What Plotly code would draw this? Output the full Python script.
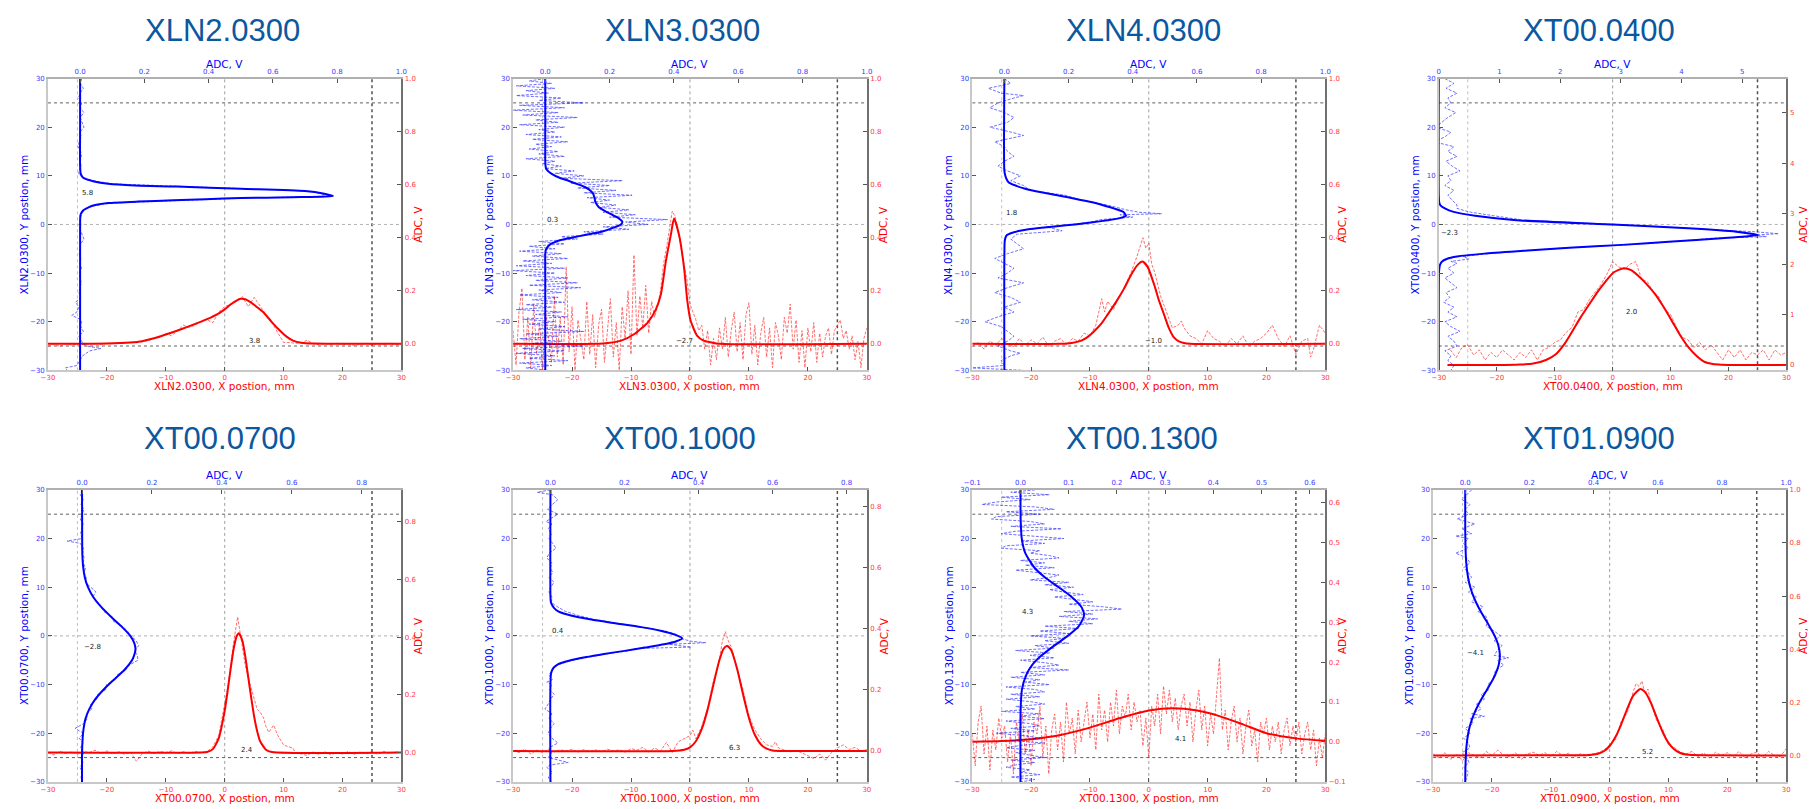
import plotly.graph_objects as go

W, H = 1814, 809

# ---------------- data ----------------
PANEL_NAMES = ["XLN2.0300", "XLN3.0300", "XLN4.0300", "XT00.0400",
               "XT00.0700", "XT00.1000", "XT00.1300", "XT01.0900"]
BLUE_CENTERS = ["5.8", "0.3", "1.8", "-2.3", "-2.8", "0.4", "4.3", "-4.1"]
RED_CENTERS = ["3.8", "-2.7", "-1.0", "2.0", "2.4", "6.3", "4.1", "5.2"]

HALF_MM_DESC = [30, 29.5, 29, 28.5, 28, 27.5, 27, 26.5, 26, 25.5, 25, 24.5, 24, 23.5, 23, 22.5, 22, 21.5, 21, 20.5,
                20, 19.5, 19, 18.5, 18, 17.5, 17, 16.5, 16, 15.5, 15, 14.5, 14, 13.5, 13, 12.5, 12, 11.5, 11, 10.5,
                10, 9.5, 9, 8.5, 8, 7.5, 7, 6.5, 6, 5.5, 5, 4.5, 4, 3.5, 3, 2.5, 2, 1.5, 1, 0.5,
                0, -0.5, -1, -1.5, -2, -2.5, -3, -3.5, -4, -4.5, -5, -5.5, -6, -6.5, -7, -7.5, -8, -8.5, -9, -9.5,
                -10, -10.5, -11, -11.5, -12, -12.5, -13, -13.5, -14, -14.5, -15, -15.5, -16, -16.5, -17, -17.5,
                -18, -18.5, -19, -19.5, -20, -20.5, -21, -21.5, -22, -22.5, -23, -23.5, -24, -24.5, -25, -25.5,
                -26, -26.5, -27, -27.5, -28, -28.5, -29, -29.5, -30]
HALF_MM_ASC = list(reversed(HALF_MM_DESC))

# Panel 1: XLN2.0300
P1_BLUE_FIT_Y = [30, 20, 12, 10.4, 9.8, 9.4, 8.9, 8.35, 8.0, 7.8, 7.33, 6.86, 6.3, 5.84, 5.6, 5.43, 5.2, 4.96, 4.7, 4.4,
                 4.1, 3.8, 3.3, 2.9, 2.4, 1.9, 0, -30]
P1_BLUE_FIT_ADC = [0, 0, 0, 0.002, 0.007, 0.015, 0.04, 0.087, 0.17, 0.30, 0.50, 0.70, 0.76, 0.787, 0.66, 0.50, 0.39,
                   0.29, 0.18, 0.087, 0.055, 0.036, 0.02, 0.01, 0.004, 0.001, 0, 0]
P1_BLUE_MEAS = [(30, 0.005), (29, 0.0), (28, 0.01), (27, 0.0), (26, -0.005), (25, 0.005), (24, 0.0), (23, 0.012),
                (22, 0.0), (21, 0.005), (20, 0.012), (19, 0.0), (18, 0.003), (17, -0.003), (16, -0.006), (15, 0.002),
                (14, 0.004), (13, 0.0), (12, 0.003), (11, -0.004), (10.4, -0.004), (9.8, 0.008), (9.4, 0.02),
                (8.9, 0.05), (8.35, 0.1), (7.8, 0.33), (7.33, 0.52), (6.86, 0.71), (6.3, 0.75), (5.84, 0.77),
                (5.43, 0.52), (4.96, 0.3), (4.4, 0.1), (3.8, 0.04), (3.3, 0.02), (2.9, 0.012), (2, 0.004), (1, 0.0),
                (0, 0.002), (-1, 0.0), (-2, 0.005), (-3, 0.012), (-4, 0.002), (-5, 0.0), (-6, -0.003), (-7, 0.002),
                (-8, 0.0), (-9, 0.004), (-10, -0.002), (-11, 0.0), (-12, 0.003), (-13, 0.0), (-14, -0.004),
                (-15, 0.002), (-16, -0.014), (-17, -0.004), (-18, -0.01), (-18.7, -0.026), (-19.5, 0.0),
                (-20, 0.004), (-21, 0.002), (-22, 0.01), (-23, -0.004), (-24, 0.004), (-25, 0.02), (-25.5, 0.065),
                (-26, 0.03), (-27, 0.008), (-28, 0.0), (-29, -0.01), (-29.5, -0.046), (-30, -0.04)]
P1_RED_FIT_X = [-30, -20, -16, -14, -12.5, -10, -7.4, -5, -3, -1, 0, 1, 2, 2.7, 3.5, 4.5, 5.5, 6.6, 8, 9.4, 10.5,
                11.6, 13, 15, 30]
P1_RED_FIT_ADC = [0, 0.001, 0.005, 0.01, 0.018, 0.035, 0.055, 0.075, 0.093, 0.115, 0.13, 0.148, 0.163, 0.17, 0.168,
                  0.155, 0.138, 0.118, 0.082, 0.049, 0.027, 0.012, 0.004, 0.001, 0]
P1_RED_MEAS = [(-30, -0.01), (-29, 0.0), (-28, -0.01), (-27, 0.0), (-26, -0.005), (-25, 0.0), (-24, -0.003),
               (-23, 0.0), (-22, 0.002), (-21, -0.002), (-20, 0.001), (-19, 0.0), (-18, 0.003), (-17, 0.002),
               (-16, 0.006), (-15, 0.004), (-14, 0.008), (-13, 0.012), (-12, 0.02), (-11, 0.024), (-10, 0.04),
               (-9, 0.03), (-8, 0.05), (-7, 0.07), (-6, 0.062), (-5, 0.07), (-4, 0.085), (-3, 0.09), (-2, 0.08),
               (-1, 0.12), (0, 0.14), (1, 0.15), (2, 0.16), (3, 0.178), (4, 0.14), (5, 0.175), (6, 0.14), (7, 0.11),
               (8, 0.08), (9, 0.04), (10, 0.005), (11, 0.005), (12, 0.002), (13, 0.003), (14, 0.014), (15, 0.0),
               (16, -0.003), (17, 0.001), (18, -0.002), (19, 0.002), (20, -0.003), (21, 0.0), (22, -0.006),
               (23, -0.002), (24, 0.002), (25, -0.004), (26, 0.0), (27, -0.003), (28, 0.002), (29, -0.004),
               (30, 0.0)]

# Panel 2: XLN3.0300
P2_BLUE_FIT_Y = [30, 20, 13, 12, 11.4, 10.4, 9.5, 9.0, 8.3, 7.7, 7.0, 6.3, 5.5, 4.6, 3.6, 2.6, 1.6, 0.9, 0.5, 0,
                 -0.6, -1.5, -2.2, -2.85, -3.5, -4.1, -5.2, -6, -10, -20, -30]
P2_BLUE_FIT_ADC = [0, 0, 0.0, 0.001, 0.003, 0.02, 0.048, 0.072, 0.1, 0.123, 0.14, 0.149, 0.153, 0.156, 0.166, 0.19,
                   0.22, 0.235, 0.24, 0.235, 0.215, 0.175, 0.12, 0.072, 0.035, 0.015, 0.002, 0, 0, 0, 0]
P2_BLUE_MEAS_ADC = [0.0, -0.05, 0.02, -0.09, 0.03, -0.06, 0.01, -0.09, 0.05, -0.02, 0.12, -0.08, 0.06, -0.1, 0.04,
                    -0.07, 0.1, -0.03, 0.04, -0.08, 0.06, -0.02, 0.03, -0.06, 0.05, -0.04, 0.07, -0.03, 0.02, -0.05,
                    0.04, -0.02, 0.06, -0.06, 0.03, -0.01, 0.05, 0.0, 0.09, 0.03, 0.12, 0.05, 0.24, 0.08, 0.2, 0.1,
                    0.22, 0.12, 0.27, 0.13, 0.2, 0.14, 0.22, 0.17, 0.26, 0.18, 0.28, 0.2, 0.38, 0.25, 0.32, 0.18,
                    0.26, 0.12, 0.18, 0.05, 0.1, -0.02, 0.06, -0.05, 0.03, -0.08, 0.05, -0.04, 0.07, -0.07, 0.02,
                    -0.09, 0.06, -0.1, 0.03, -0.06, 0.07, -0.03, 0.1, -0.05, 0.11, -0.02, 0.05, -0.08, 0.04, -0.04,
                    0.06, -0.06, 0.02, -0.09, 0.05, -0.03, 0.07, -0.07, 0.03, -0.05, 0.06, -0.02, 0.12, -0.06, 0.04,
                    -0.08, 0.05, -0.04, 0.12, -0.07, 0.06, -0.09, 0.03, -0.05, 0.07, -0.08, 0.02, -0.06, 0.01]
P2_RED_FIT_X = [-30, -16, -13.9, -11.67, -9.42, -7.18, -5.78, -4.94, -4.1, -3.25, -2.7, -1.85, -1.0, -0.45, 0.11,
                1.23, 2.3, 3.5, 5, 30]
P2_RED_FIT_ADC = [0, 0, 0.003, 0.012, 0.037, 0.08, 0.13, 0.186, 0.31, 0.41, 0.472, 0.41, 0.286, 0.162, 0.087, 0.03,
                  0.012, 0.006, 0.0, 0]
P2_RED_MEAS_ADC = [0.05, -0.08, 0.12, 0.21, -0.06, 0.1, -0.09, 0.15, -0.04, 0.08, -0.1, 0.13, 0.02, -0.07, 0.18,
                   -0.05, 0.1, -0.08, 0.29, -0.03, 0.14, -0.1, 0.09, 0.02, -0.06, 0.16, -0.04, 0.11, -0.09, 0.07,
                   0.13, -0.07, 0.05, 0.17, -0.05, 0.08, -0.1, 0.14, 0.02, 0.2, -0.04, 0.335, 0.03, 0.18, 0.06,
                   0.22, 0.04, 0.16, 0.1, 0.14, 0.2, 0.3, 0.36, 0.44, 0.5, 0.48, 0.42, 0.36, 0.3, 0.24, 0.15, 0.12,
                   0.09, 0.05, 0.07, -0.02, 0.05, -0.08, 0.02, -0.06, 0.06, -0.02, 0.1, -0.05, 0.05, 0.12, -0.03,
                   0.08, -0.06, 0.11, 0.155, -0.04, 0.07, -0.08, 0.04, 0.1, -0.05, 0.06, -0.09, 0.08, 0.03, -0.06,
                   0.1, 0.04, 0.15, -0.02, 0.09, -0.07, 0.05, -0.09, 0.06, -0.03, 0.08, -0.07, 0.04, -0.05, 0.03,
                   0.06, -0.04, 0.05, 0.07, 0.09, 0.02, 0.05, -0.02, 0.03, -0.06, 0.01, -0.09, 0.02, 0.06]

# Panel 3: XLN4.0300
P3_BLUE_FIT_Y = [30, 11, 10, 9.3, 8.7, 8.0, 7.33, 6.6, 5.97, 5.3, 4.6, 3.9, 3.26, 2.6, 1.8, 1.3, 0.88, 0.4, 0,
                 -0.35, -0.68, -1.0, -1.36, -1.8, -2.17, -2.8, -3.5, -30]
P3_BLUE_FIT_ADC = [0, 0, 0.003, 0.007, 0.013, 0.035, 0.065, 0.115, 0.168, 0.22, 0.27, 0.31, 0.343, 0.37, 0.379,
                   0.36, 0.322, 0.27, 0.22, 0.165, 0.116, 0.075, 0.044, 0.02, 0.008, 0.003, 0.001, 0]
P3_BLUE_MEAS = [(30, 0.0), (29, 0.02), (28, -0.05), (27, -0.01), (26.5, 0.06), (26, 0.03), (25, -0.02), (24, -0.045),
                (23, 0.0), (22, 0.03), (21, 0.01), (20, -0.045), (19, 0.02), (18.3, 0.06), (17, -0.03), (16, 0.0),
                (15, 0.01), (14, 0.03), (13, 0.0), (12, -0.02), (11, 0.01), (10, 0.05), (9, 0.02), (8, 0.06),
                (7, 0.08), (6, 0.19), (5, 0.24), (4, 0.32), (3, 0.38), (2.5, 0.42), (2.2, 0.49), (2, 0.36),
                (1.5, 0.4), (1, 0.3), (0.5, 0.27), (0, 0.21), (-0.5, 0.13), (-1.3, 0.18), (-2, 0.04), (-3, 0.02),
                (-4, 0.04), (-5, 0.06), (-6, 0.01), (-7, -0.03), (-8, 0.0), (-9, 0.03), (-10, 0.01), (-11, -0.02),
                (-12, 0.06), (-13, 0.01), (-14, -0.03), (-15, 0.02), (-16, 0.05), (-17, 0.0), (-18, 0.03),
                (-19, -0.02), (-20, -0.06), (-21, -0.01), (-22, 0.01), (-23, 0.03), (-24, 0.01), (-25, -0.02),
                (-26, 0.02), (-26.5, 0.05), (-27, 0.02), (-28, -0.01), (-29, 0.0), (-29.5, -0.1), (-30, 0.06)]
P3_RED_FIT_X = [-30, -15, -13.1, -11.46, -10.3, -9.2, -8.0, -6.97, -5.5, -4.16, -3.0, -2.0, -1.07, -0.2, 0.9, 1.7,
                2.58, 3.4, 4.27, 5.1, 5.96, 7, 30]
P3_RED_FIT_ADC = [0, 0, 0.003, 0.012, 0.027, 0.049, 0.078, 0.111, 0.16, 0.21, 0.26, 0.295, 0.31, 0.29, 0.224,
                  0.165, 0.111, 0.06, 0.024, 0.009, 0.003, 0, 0]
P3_RED_MEAS = [(-30, -0.01), (-29, 0.005), (-28, -0.02), (-27, 0.01), (-26, -0.005), (-25, 0.02), (-24, 0.0),
               (-23, -0.01), (-22, 0.02), (-21, -0.005), (-20, 0.015), (-19, 0.0), (-18, 0.025), (-17, -0.01),
               (-16, 0.01), (-15, 0.02), (-14, -0.005), (-13, 0.02), (-12, 0.01), (-11, 0.04), (-10, 0.03),
               (-9, 0.07), (-8, 0.17), (-7.5, 0.12), (-7, 0.16), (-6, 0.13), (-5, 0.18), (-4, 0.22), (-3, 0.27),
               (-2, 0.33), (-1, 0.4), (-0.5, 0.36), (0, 0.38), (0.5, 0.3), (1, 0.27), (2, 0.18), (3, 0.12),
               (4, 0.06), (5, 0.07), (5.5, 0.086), (6, 0.06), (7, 0.03), (8, 0.02), (9, 0.0), (10, 0.05),
               (11, 0.02), (12, 0.01), (13, -0.01), (14, 0.02), (15, 0.0), (16, 0.03), (17, -0.01), (18, 0.01),
               (19, 0.02), (20, 0.04), (21, 0.07), (22, 0.02), (23, -0.01), (24, 0.03), (25, -0.04), (26, 0.01),
               (27, 0.02), (27.5, -0.05), (28, -0.02), (29, 0.07), (30, 0.04)]

# Panel 4: XT00.0400
P4_BLUE_FIT_Y = [30, 6, 4.5, 3.94, 3.3, 2.58, 1.8, 0.88, 0, -0.8, -1.5, -2.17, -2.5, -2.85, -3.5, -4.2, -4.8,
                 -5.43, -6.0, -6.6, -7.1, -7.6, -8.3, -8.96, -10, -30]
P4_BLUE_FIT_ADC = [0, 0, 0.008, 0.027, 0.1, 0.245, 0.6, 1.28, 2.86, 4.11, 4.9, 5.26, 5.05, 4.66, 3.85, 3.02, 2.15,
                   1.39, 0.75, 0.3, 0.13, 0.054, 0.02, 0.01, 0.003, 0]
P4_BLUE_MEAS = [(30, 0.1), (29, 0.25), (28, 0.12), (27, 0.3), (26, 0.15), (25, 0.2), (24, 0.1), (23, 0.28),
                (22, 0.15), (21, 0.05), (20, -0.05), (19, 0.2), (18, 0.1), (17, -0.08), (16, 0.25), (15, 0.15),
                (14, 0.3), (13, 0.12), (12, 0.22), (11, 0.35), (10, 0.15), (9, 0.2), (8, 0.1), (7, 0.25),
                (6, 0.15), (5, 0.22), (4, 0.3), (3.3, 0.3), (2.58, 0.5), (1.8, 0.9), (0.88, 1.4), (0, 2.9),
                (-0.8, 4.2), (-1.5, 5.2), (-1.9, 5.6), (-2.17, 5.2), (-2.5, 5.4), (-2.85, 4.5), (-3.5, 3.9),
                (-4.2, 3.1), (-4.8, 2.1), (-5.43, 1.45), (-6, 0.8), (-6.6, 0.4), (-7.1, 0.5), (-7.6, 0.2),
                (-8, 0.3), (-9, 0.15), (-10, 0.25), (-11, 0.1), (-12, 0.2), (-13, 0.3), (-14, 0.12), (-15, 0.18),
                (-16, 0.08), (-17, 0.25), (-18, 0.15), (-19, 0.3), (-20, 0.1), (-21, 0.2), (-22, 0.35),
                (-23, 0.15), (-24, 0.25), (-25, 0.3), (-26, 0.1), (-27, 0.2), (-28, 0.15), (-29, 0.25), (-30, 0.2)]
P4_RED_FIT_X = [-28.5, -20, -16, -13.7, -11.5, -9.75, -8.3, -6.9, -5.5, -4.05, -2.6, -1.2, 0.2, 1.9, 3.2, 4.5, 5.9,
                7.36, 8.8, 10.2, 11.6, 13.1, 14.5, 15.9, 17.3, 18.8, 22, 30]
P4_RED_FIT_ADC = [0.0, 0.0, 0.01, 0.03, 0.1, 0.22, 0.42, 0.68, 0.95, 1.2, 1.45, 1.66, 1.84, 1.92, 1.88, 1.76, 1.6,
                  1.4, 1.15, 0.88, 0.6, 0.35, 0.18, 0.06, 0.02, 0.007, 0.0, 0.0]
P4_RED_MEAS = [(-28, 0.3), (-27, 0.15), (-26, 0.35), (-25, 0.4), (-24, 0.2), (-23, 0.3), (-22, 0.1), (-21, 0.25),
               (-20, 0.15), (-19, 0.3), (-18, 0.2), (-17, 0.1), (-16, 0.25), (-15, 0.15), (-14, 0.3), (-13, 0.1),
               (-12, 0.3), (-11, 0.35), (-10, 0.45), (-9, 0.5), (-8, 0.65), (-7, 0.75), (-6, 1.05), (-5, 1.1),
               (-4, 1.3), (-3, 1.45), (-2, 1.6), (-1, 1.8), (0, 2.05), (1, 1.95), (2, 1.9), (3, 2.0), (4, 2.05),
               (5, 1.7), (6, 1.65), (7, 1.45), (8, 1.35), (9, 1.1), (10, 1.0), (11, 0.75), (12, 0.55), (13, 0.5),
               (14, 0.35), (15, 0.45), (16, 0.3), (17, 0.4), (18, 0.25), (19, 0.1), (20, 0.3), (21, 0.15),
               (22, 0.3), (23, 0.1), (24, 0.25), (25, 0.2), (26, 0.3), (27, 0.1), (28, 0.3), (29, 0.2), (30, 0.25)]

# Panel 5: XT00.0700
P5_BLUE_FIT_Y = [30, 18, 16, 14, 12, 10, 8, 6, 4, 2, 0, -1.4, -2.8, -4, -5, -7, -9, -11, -13, -15, -17, -19, -21,
                 -24, -30]
P5_BLUE_FIT_ADC = [0, 0.0005, 0.0013, 0.0035, 0.008, 0.017, 0.032, 0.054, 0.082, 0.112, 0.138, 0.149, 0.153,
                   0.149, 0.143, 0.121, 0.091, 0.062, 0.038, 0.021, 0.010, 0.0045, 0.0018, 0.0, 0]
P5_BLUE_MEAS = [(30, 0.0), (29, -0.005), (28, 0.003), (27, -0.003), (26, 0.005), (25, 0.0), (24, -0.005),
                (23, 0.003), (22, 0.0), (21, -0.004), (20, 0.0), (19.5, -0.043), (19, -0.005), (18, 0.004),
                (17, 0.002), (16, 0.006), (15, 0.003), (14, 0.01), (13, 0.006), (12, 0.012), (11, 0.01),
                (10, 0.025), (9, 0.04), (8, 0.03), (7, 0.045), (6, 0.055), (5, 0.062), (4, 0.085), (3, 0.09),
                (2, 0.115), (1, 0.13), (0, 0.14), (-1, 0.155), (-2, 0.162), (-3, 0.15), (-4, 0.158), (-5, 0.16),
                (-6, 0.135), (-7, 0.125), (-8, 0.1), (-9, 0.095), (-10, 0.07), (-11, 0.068), (-12, 0.045),
                (-13, 0.042), (-14, 0.025), (-15, 0.028), (-16, 0.012), (-17, 0.015), (-18, 0.005), (-19, -0.02),
                (-20, 0.004), (-21, -0.008), (-22, 0.003), (-23, -0.005), (-24, 0.006), (-25, -0.004), (-26, 0.003),
                (-27, -0.006), (-28, 0.002), (-29, -0.003), (-30, 0.0)]
P5_RED_FIT_X = [-30, -4, -3, -2, -1, 0, 0.5, 1, 1.5, 2, 2.4, 3, 3.5, 4, 4.5, 5, 5.5, 6, 7, 8, 30]
P5_RED_FIT_ADC = [0, 0.0, 0.002, 0.012, 0.05, 0.145, 0.214, 0.289, 0.357, 0.401, 0.413, 0.387, 0.332, 0.26, 0.19,
                  0.125, 0.075, 0.04, 0.01, 0.002, 0]
P5_RED_MEAS = [(-30, 0.0), (-29, -0.008), (-28, 0.005), (-27, -0.004), (-26, 0.003), (-25, -0.006), (-24, 0.004),
               (-23, 0.0), (-22, 0.008), (-21, -0.003), (-20, 0.006), (-19, -0.005), (-18, 0.003), (-17, -0.006),
               (-16, 0.002), (-15, -0.03), (-14, -0.004), (-13, 0.005), (-12, -0.003), (-11, 0.004), (-10, 0.0),
               (-9, 0.006), (-8, -0.004), (-7, 0.003), (-6, -0.002), (-5, 0.004), (-4, 0.0), (-3, 0.003),
               (-2, 0.02), (-1, 0.06), (0, 0.17), (0.5, 0.22), (1, 0.3), (1.5, 0.38), (2.2, 0.47), (3, 0.37),
               (3.5, 0.3), (4, 0.26), (4.5, 0.22), (5, 0.18), (5.5, 0.15), (6, 0.14), (6.6, 0.12), (7, 0.09),
               (7.5, 0.07), (8.3, 0.095), (9, 0.06), (10, 0.026), (11, 0.02), (11.6, 0.015), (12, 0.0),
               (13, -0.005), (14, -0.01), (15, 0.002), (16, -0.006), (17, 0.003), (18, -0.008), (19, 0.0),
               (20, -0.005), (21, 0.004), (22, -0.006), (23, 0.002), (24, -0.004), (25, 0.003), (26, -0.006),
               (27, 0.004), (28, -0.003), (29, 0.002), (30, 0.0)]

# Panel 6: XT00.1000
P6_BLUE_FIT_Y = [30, 8, 7, 6.4, 5.7, 5.05, 4.2, 3.36, 2.6, 1.8, 1.0, 0.3, -0.5, -1.1, -1.73, -2.4, -3.08, -3.7,
                 -4.4, -5.1, -5.8, -6.5, -7.15, -8, -30]
P6_BLUE_FIT_ADC = [0, 0, 0.001, 0.004, 0.01, 0.021, 0.055, 0.11, 0.175, 0.245, 0.3, 0.334, 0.356, 0.34, 0.307,
                   0.255, 0.2, 0.145, 0.093, 0.05, 0.021, 0.009, 0.004, 0.001, 0]
P6_BLUE_MEAS = [(30, 0.0), (29.5, -0.036), (29, 0.005), (28, 0.02), (27, 0.005), (26, -0.008), (25, 0.02),
                (24, 0.0), (23.5, -0.012), (23, 0.004), (22, -0.006), (21, 0.003), (20, -0.004), (19, 0.006),
                (18, 0.015), (17, -0.003), (16, -0.01), (15, 0.004), (14, 0.0), (13, 0.006), (12, -0.004),
                (11, 0.01), (10, 0.0), (9, -0.004), (8, 0.004), (7, 0.003), (6.4, 0.01), (5.7, 0.025), (5.05, 0.04),
                (4.2, 0.075), (3.36, 0.12), (2.6, 0.18), (1.8, 0.25), (1.0, 0.31), (0.3, 0.34), (-0.5, 0.35),
                (-1.1, 0.38), (-1.4, 0.42), (-1.73, 0.32), (-2.3, 0.38), (-2.6, 0.23), (-3.08, 0.21), (-3.7, 0.15),
                (-4.4, 0.1), (-5.1, 0.055), (-5.8, 0.025), (-6.5, 0.01), (-7, 0.005), (-8, -0.004), (-9, 0.005),
                (-9.5, -0.01), (-10, 0.004), (-11, -0.003), (-12, 0.01), (-13, 0.0), (-14, -0.006), (-15, -0.015),
                (-16, 0.004), (-17, -0.004), (-18, 0.01), (-19, 0.0), (-20, -0.006), (-21, 0.004), (-22, 0.02),
                (-23, -0.004), (-24, 0.003), (-25, -0.006), (-26, 0.048), (-26.5, 0.0), (-27, -0.01), (-28, 0.005),
                (-29, -0.006), (-30, 0.002)]
P6_RED_FIT_X = [-30, -3, -1, 0, 1, 2, 3, 4, 5, 5.7, 6.3, 7, 8, 9, 10, 11, 12, 13, 14, 16, 30]
P6_RED_FIT_ADC = [0, 0, 0.004, 0.012, 0.032, 0.072, 0.136, 0.219, 0.297, 0.334, 0.343, 0.329, 0.268, 0.185, 0.108,
                  0.053, 0.022, 0.008, 0.002, 0, 0]
P6_RED_MEAS = [(-30, 0.0), (-29, -0.005), (-28, 0.006), (-27, -0.01), (-26, 0.003), (-25, -0.005), (-24, 0.005),
               (-23, -0.003), (-22, 0.004), (-21, 0.0), (-20, 0.006), (-19, -0.004), (-18, 0.005), (-17, -0.002),
               (-16, 0.004), (-15, -0.003), (-14, 0.006), (-13, 0.0), (-12, 0.004), (-11, -0.004), (-10, 0.008),
               (-9, 0.003), (-8, 0.012), (-7, -0.003), (-6, 0.01), (-5, 0.0), (-4, 0.028), (-3, -0.005),
               (-2, 0.03), (-1, 0.04), (0, 0.05), (0.5, 0.068), (1, 0.04), (2, 0.08), (3, 0.14), (4, 0.23),
               (5, 0.3), (5.5, 0.36), (6, 0.39), (6.5, 0.36), (7, 0.34), (8, 0.27), (9, 0.2), (10, 0.115),
               (11, 0.07), (12, 0.04), (13, 0.02), (14, 0.015), (14.5, 0.03), (15, 0.01), (16, 0.004),
               (17, -0.003), (18, 0.002), (19, -0.006), (20, -0.015), (21, -0.025), (22, -0.01), (23, -0.03),
               (24, -0.005), (25, 0.01), (26, 0.02), (27, 0.005), (28, 0.012), (29, 0.0), (30, 0.005)]

# Panel 7: XT00.1300
P7_BLUE_FIT_Y = [30, 24, 20, 17, 14, 12, 10, 8, 6, 4.3, 2, 0, -2, -4, -6, -8, -11, -15, -30]
P7_BLUE_FIT_ADC = [0, 0.0003, 0.0026, 0.010, 0.029, 0.051, 0.079, 0.106, 0.126, 0.132, 0.121, 0.098, 0.070, 0.044,
                   0.024, 0.012, 0.003, 0.0003, 0]
P7_BLUE_MEAS_ADC = [0.03, -0.02, 0.06, -0.04, 0.02, -0.05, -0.08, 0.03, 0.07, -0.03, 0.04, -0.05, -0.06, 0.02,
                    0.05, -0.02, 0.085, -0.01, -0.04, 0.03, 0.09, 0.0, 0.05, -0.03, -0.04, 0.04, 0.02, 0.06, 0.08,
                    0.0, 0.05, 0.01, 0.07, -0.01, 0.04, 0.08, 0.06, 0.02, 0.1, 0.05, 0.11, 0.06, 0.09, 0.13, 0.07,
                    0.11, 0.15, 0.1, 0.17, 0.21, 0.09, 0.15, 0.08, 0.16, 0.1, 0.15, 0.05, 0.12, 0.04, 0.1, 0.02,
                    0.09, 0.05, 0.1, 0.03, 0.07, -0.01, 0.06, 0.02, 0.07, 0.0, 0.05, 0.08, 0.02, 0.1, 0.0, 0.05,
                    -0.02, 0.04, 0.01, 0.06, -0.03, 0.03, 0.05, -0.02, 0.04, -0.03, 0.02, 0.05, -0.01, 0.03, -0.04,
                    0.04, 0.0, 0.05, -0.03, 0.02, 0.04, -0.02, 0.03, -0.05, 0.01, 0.04, -0.02, 0.05, 0.0, -0.03,
                    0.03, -0.01, 0.02, 0.05, -0.02, 0.03, -0.01, -0.03, 0.02, 0.0, 0.04, -0.02, 0.03, 0.0]
P7_RED_FIT_X = [-30, -25, -20, -15, -10, -5, 0, 4.1, 8, 12, 16, 20, 25, 30]
P7_RED_FIT_ADC = [0.0006, 0.0022, 0.007, 0.0177, 0.036, 0.0592, 0.0786, 0.0845, 0.0792, 0.0647, 0.044, 0.022,
                  0.009, 0.003]
P7_RED_MEAS_ADC = [0.02, -0.06, 0.05, 0.09, -0.03, 0.04, -0.07, 0.03, -0.02, 0.06, 0.01, 0.04, -0.05, 0.02, -0.08,
                   0.05, 0.0, 0.07, -0.03, 0.03, -0.06, 0.05, 0.02, 0.09, -0.04, 0.04, -0.08, 0.03, 0.07, -0.02,
                   0.05, -0.05, 0.1, 0.02, 0.06, -0.03, 0.08, 0.0, 0.05, 0.1, 0.01, 0.07, -0.02, 0.12, 0.03, 0.08,
                   0.0, 0.1, 0.04, 0.13, 0.02, 0.09, 0.06, 0.12, 0.03, 0.1, 0.05, 0.08, -0.01, 0.06, -0.04, 0.09,
                   0.04, 0.12, 0.02, 0.14, 0.07, 0.13, 0.05, 0.11, 0.03, 0.09, 0.12, 0.04, 0.1, 0.0, 0.08, 0.13,
                   0.03, 0.09, -0.01, 0.07, 0.02, 0.11, 0.21, 0.03, 0.08, -0.02, 0.05, 0.09, 0.0, 0.06, -0.03,
                   0.04, 0.08, -0.01, 0.03, -0.05, 0.05, 0.02, 0.06, -0.02, 0.04, 0.0, 0.05, -0.03, 0.03, 0.06,
                   -0.01, 0.04, 0.0, 0.05, -0.03, 0.02, 0.05, -0.02, 0.03, -0.06, 0.01, -0.04, 0.02]

# Panel 8: XT01.0900
P8_BLUE_FIT_Y = [30, 20, 15, 12, 10, 8, 6, 4, 2, 0, -2, -4.1, -6, -8, -10, -12, -14, -16, -18, -20, -23, -27, -30]
P8_BLUE_FIT_ADC = [0, 0.0004, 0.0032, 0.0089, 0.0159, 0.0263, 0.0404, 0.0574, 0.0754, 0.0918, 0.1035, 0.108,
                   0.1043, 0.0933, 0.0772, 0.0592, 0.042, 0.0276, 0.0167, 0.0094, 0.0034, 0.0007, 0]
P8_BLUE_MEAS = [(30, 0.02), (29, 0.005), (28, -0.01), (27, 0.015), (26, 0.0), (25, 0.01), (24, -0.025), (23, 0.03),
                (22, -0.01), (21, 0.02), (20.5, -0.03), (20, 0.01), (19, -0.005), (18, 0.01), (17, -0.03),
                (16, 0.005), (15, 0.015), (14, -0.005), (13, 0.01), (12, 0.02), (11, 0.0), (10, 0.03), (9, 0.01),
                (8, 0.035), (7, 0.02), (6, 0.055), (5, 0.04), (4, 0.065), (3, 0.07), (2, 0.065), (1, 0.09),
                (0, 0.11), (-1, 0.09), (-2, 0.115), (-3, 0.1), (-4, 0.09), (-4.5, 0.135), (-5, 0.1), (-6, 0.12),
                (-7, 0.095), (-8, 0.09), (-9, 0.088), (-10, 0.07), (-11, 0.075), (-12, 0.05), (-13, 0.06),
                (-14, 0.035), (-15, 0.05), (-16, 0.02), (-16.5, 0.06), (-17, 0.015), (-18, 0.025), (-19, 0.0),
                (-20, 0.015), (-21, -0.005), (-22, 0.01), (-23, 0.015), (-24, -0.01), (-25, 0.005), (-26, 0.012),
                (-27, -0.004), (-28, 0.01), (-29, 0.005), (-30, 0.0)]
P8_RED_FIT_X = [-30, -4, -3, -2, -1, 0, 1, 2, 3, 4, 5.2, 6, 7, 8, 9, 10, 11, 12, 13, 14, 30]
P8_RED_FIT_ADC = [0, 0.0005, 0.002, 0.006, 0.0155, 0.0354, 0.0698, 0.119, 0.176, 0.225, 0.25, 0.239, 0.198, 0.142,
                  0.088, 0.047, 0.022, 0.0089, 0.003, 0.001, 0]
P8_RED_MEAS = [(-30, 0.005), (-29, -0.01), (-28, 0.01), (-27, -0.015), (-26, 0.005), (-25, -0.02), (-24, 0.01),
               (-23, 0.0), (-22, -0.01), (-21, 0.015), (-20, 0.0), (-19, 0.02), (-18, 0.0), (-17, -0.005),
               (-16, 0.01), (-15, -0.015), (-14, 0.005), (-13, 0.012), (-12, 0.0), (-11, 0.01), (-10, -0.005),
               (-9, 0.015), (-8, 0.0), (-7, 0.008), (-6, -0.005), (-5, 0.006), (-4, 0.002), (-3, 0.005),
               (-2, 0.01), (-1, 0.02), (0, 0.04), (1, 0.06), (2, 0.13), (3, 0.16), (4, 0.24), (4.5, 0.27),
               (5, 0.26), (5.5, 0.28), (6, 0.23), (6.5, 0.25), (7, 0.2), (8, 0.13), (9, 0.1), (10, 0.04),
               (11, 0.03), (12, 0.012), (13, 0.005), (14, 0.015), (15, -0.005), (16, 0.01), (17, -0.01),
               (18, 0.012), (19, 0.0), (20, 0.01), (21, -0.005), (22, 0.015), (23, -0.01), (24, 0.005),
               (25, 0.012), (26, -0.008), (27, 0.015), (28, 0.0), (29, -0.005), (30, 0.025)]

POS_TICKS = [-30, -20, -10, 0, 10, 20, 30]


def unzip(pairs):
    return [p[0] for p in pairs], [p[1] for p in pairs]


BLUE_FITS = [(P1_BLUE_FIT_Y, P1_BLUE_FIT_ADC), (P2_BLUE_FIT_Y, P2_BLUE_FIT_ADC), (P3_BLUE_FIT_Y, P3_BLUE_FIT_ADC),
             (P4_BLUE_FIT_Y, P4_BLUE_FIT_ADC), (P5_BLUE_FIT_Y, P5_BLUE_FIT_ADC), (P6_BLUE_FIT_Y, P6_BLUE_FIT_ADC),
             (P7_BLUE_FIT_Y, P7_BLUE_FIT_ADC), (P8_BLUE_FIT_Y, P8_BLUE_FIT_ADC)]
BLUE_MEAS = [unzip(P1_BLUE_MEAS), (HALF_MM_DESC, P2_BLUE_MEAS_ADC), unzip(P3_BLUE_MEAS), unzip(P4_BLUE_MEAS),
             unzip(P5_BLUE_MEAS), unzip(P6_BLUE_MEAS), (HALF_MM_DESC, P7_BLUE_MEAS_ADC), unzip(P8_BLUE_MEAS)]
RED_FITS = [(P1_RED_FIT_X, P1_RED_FIT_ADC), (P2_RED_FIT_X, P2_RED_FIT_ADC), (P3_RED_FIT_X, P3_RED_FIT_ADC),
            (P4_RED_FIT_X, P4_RED_FIT_ADC), (P5_RED_FIT_X, P5_RED_FIT_ADC), (P6_RED_FIT_X, P6_RED_FIT_ADC),
            (P7_RED_FIT_X, P7_RED_FIT_ADC), (P8_RED_FIT_X, P8_RED_FIT_ADC)]
RED_MEAS = [unzip(P1_RED_MEAS), (HALF_MM_ASC, P2_RED_MEAS_ADC), unzip(P3_RED_MEAS), unzip(P4_RED_MEAS),
            unzip(P5_RED_MEAS), unzip(P6_RED_MEAS), (HALF_MM_ASC, P7_RED_MEAS_ADC), unzip(P8_RED_MEAS)]

# ---------------- layout configuration ----------------
PANEL_BOXES = [(39.3, 395.7, 75.3, 370.0), (508.3, 865.0, 75.3, 370.0), (971.3, 1327.3, 75.3, 370.0),
               (1441.7, 1792.3, 75.3, 370.0), (39.3, 395.7, 490.7, 785.7), (508.3, 865.0, 490.7, 785.7),
               (971.3, 1327.3, 490.7, 785.7), (1436.0, 1792.0, 490.7, 785.7)]
TITLE_POS = [(215, 27), (679, 27), (1144, 27), (1603, 27), (213, 439), (677, 439), (1142, 439), (1603, 439)]
TOP_RANGES = [(-0.1, 1.0), (-0.1, 1.0), (-0.1, 1.0), (0, 5.73), (-0.0974, 0.9135), (-0.1009, 0.8545),
              (-0.1, 0.632), (-0.1, 1.0)]
RIGHT_RANGES = [(-0.1, 1.0), (-0.1, 1.0), (-0.1, 1.0), (-0.105, 5.68), (-0.1017, 0.9097), (-0.101, 0.853),
                (-0.1, 0.631), (-0.1, 1.0)]
ADC_DTICK = [0.2, 0.2, 0.2, 1, 0.2, 0.2, 0.1, 0.2]
ADC_FMT = [".1f", ".1f", ".1f", "d", ".1f", ".1f", ".1f", ".1f"]
RED_LABEL_Y = [0, 0, 0, 1.0, 0, 0, 0, 0]

BLUE = "#0000ff"
RED = "#ff0000"
BLUE_TXT = "#3a3aff"
RED_TXT = "#ff3a3a"
TICK_FONT = "DejaVu Sans"
TITLE_COLOR = "#0c589f"
MEAS_DASH = "3px,1.5px"


def px(x):
    return x / W


def py(y):
    return 1 - y / H


fig = go.Figure()
layout = dict(width=W, height=H, autosize=False, margin=dict(l=0, r=0, t=0, b=0),
              paper_bgcolor="white", plot_bgcolor="rgba(0,0,0,0)", showlegend=False)
annotations = []
shapes = []

for i in range(8):
    L, R, T, B = PANEL_BOXES[i]
    xb, xt = 2 * i + 1, 2 * i + 2
    yl, yr = 2 * i + 1, 2 * i + 2
    xb_name = "xaxis" if xb == 1 else f"xaxis{xb}"
    yl_name = "yaxis" if yl == 1 else f"yaxis{yl}"
    xb_ref = "x" if xb == 1 else f"x{xb}"
    yl_ref = "y" if yl == 1 else f"y{yl}"
    xt_ref = f"x{xt}"
    yr_ref = f"y{yr}"
    dom_x = [px(L), px(R)]
    dom_y = [py(B), py(T)]
    common = dict(showgrid=False, zeroline=False, ticks="inside", ticklen=4, tickwidth=1, tickcolor="#555",
                  showline=True, mirror=False)
    layout[xb_name] = dict(common, domain=dom_x, anchor=yl_ref, range=[-30, 30], tickvals=POS_TICKS,
                           tickfont=dict(family=TICK_FONT, size=7, color=RED_TXT), linecolor="#c8c8c8",
                           linewidth=1.5, side="bottom")
    layout[yl_name] = dict(common, domain=dom_y, anchor=xb_ref, range=[-30, 30], tickvals=POS_TICKS,
                           tickfont=dict(family=TICK_FONT, size=7, color=BLUE_TXT), linecolor="#c8c8c8",
                           linewidth=1.5, side="left")
    layout[f"xaxis{xt}"] = dict(common, overlaying=xb_ref, anchor=yl_ref, side="top", range=list(TOP_RANGES[i]),
                                tick0=0, dtick=ADC_DTICK[i], tickformat=ADC_FMT[i],
                                tickfont=dict(family=TICK_FONT, size=7, color=BLUE_TXT), linecolor="#b0b0b0",
                                linewidth=2)
    layout[f"yaxis{yr}"] = dict(common, overlaying=yl_ref, anchor=xb_ref, side="right",
                                range=list(RIGHT_RANGES[i]), tick0=0, dtick=ADC_DTICK[i], tickformat=ADC_FMT[i],
                                tickfont=dict(family=TICK_FONT, size=7, color=RED_TXT), linecolor="#707070",
                                linewidth=2)

    # base subplot anchor trace (invisible) so overlays stack on the main subplot
    fig.add_trace(go.Scatter(x=[None], y=[None], xaxis=xb_ref, yaxis=yl_ref, mode="lines",
                             hoverinfo="skip", showlegend=False))

    # reference lines
    for xv, col, wd in [(-25, "#c0c0c0", 1), (0, "#a0a0a0", 1), (25, "#505050", 1.5)]:
        shapes.append(dict(type="line", xref=xb_ref, yref=yl_ref, x0=xv, x1=xv, y0=-30, y1=30,
                           line=dict(color=col, width=wd, dash="dot"), layer="below"))
    for yv, col, wd in [(25, "#606060", 1), (0, "#b0b0b0", 1), (-25, "#606060", 1)]:
        shapes.append(dict(type="line", xref=xb_ref, yref=yl_ref, x0=-30, x1=30, y0=yv, y1=yv,
                           line=dict(color=col, width=wd, dash="dot"), layer="below"))

    # traces
    my, mv = BLUE_MEAS[i]
    fig.add_trace(go.Scatter(x=mv, y=my, xaxis=xt_ref, yaxis=yl_ref, mode="lines",
                             line=dict(color=BLUE, width=0.8, dash=MEAS_DASH), opacity=0.7))
    fy, fv = BLUE_FITS[i]
    fig.add_trace(go.Scatter(x=fv, y=fy, xaxis=xt_ref, yaxis=yl_ref, mode="lines",
                             line=dict(color=BLUE, width=2, shape="spline", smoothing=0.6)))
    rx, rv = RED_MEAS[i]
    fig.add_trace(go.Scatter(x=rx, y=rv, xaxis=xb_ref, yaxis=yr_ref, mode="lines",
                             line=dict(color=RED, width=0.8, dash=MEAS_DASH), opacity=0.7))
    gx, gv = RED_FITS[i]
    fig.add_trace(go.Scatter(x=gx, y=gv, xaxis=xb_ref, yaxis=yr_ref, mode="lines",
                             line=dict(color=RED, width=2, shape="spline", smoothing=0.6)))

    # centre labels
    annotations.append(dict(text=BLUE_CENTERS[i].replace("-", "\u2212"), xref=xt_ref, yref=yl_ref, x=0,
                            y=float(BLUE_CENTERS[i]), xanchor="left", yanchor="middle", yshift=3, showarrow=False,
                            font=dict(family=TICK_FONT, size=7, color="#222")))
    annotations.append(dict(text=RED_CENTERS[i].replace("-", "\u2212"), xref=xb_ref, yref=yr_ref,
                            x=float(RED_CENTERS[i]), y=RED_LABEL_Y[i], xanchor="left", yanchor="middle", yshift=3,
                            showarrow=False, font=dict(family=TICK_FONT, size=7, color="#222")))

    # panel title
    tx, ty = TITLE_POS[i]
    annotations.append(dict(text=PANEL_NAMES[i], xref="paper", yref="paper", x=px(tx), y=py(ty), xanchor="center",
                            yanchor="middle", showarrow=False,
                            font=dict(family="Liberation Sans, Arial", size=31, color=TITLE_COLOR)))
    cx = (L + R) / 2
    cy = (T + B) / 2
    # axis titles
    annotations.append(dict(text="ADC, V", xref="paper", yref="paper", x=px(cx), y=py(T - 15), xanchor="center",
                            yanchor="middle", showarrow=False, font=dict(family=TICK_FONT, size=10.5, color=BLUE)))
    annotations.append(dict(text=f"{PANEL_NAMES[i]}, X postion, mm", xref="paper", yref="paper", x=px(cx),
                            y=py(B + 16), xanchor="center", yanchor="middle", showarrow=False,
                            font=dict(family=TICK_FONT, size=10.5, color=RED)))
    annotations.append(dict(text=f"{PANEL_NAMES[i]}, Y postion, mm", xref="paper", yref="paper", x=px(L - 24),
                            y=py(cy), xanchor="center", yanchor="middle", textangle=-90, showarrow=False,
                            font=dict(family=TICK_FONT, size=10.5, color=BLUE)))
    annotations.append(dict(text="ADC, V", xref="paper", yref="paper", x=px(R + 17), y=py(cy), xanchor="center",
                            yanchor="middle", textangle=-90, showarrow=False,
                            font=dict(family=TICK_FONT, size=10.5, color=RED)))

layout["annotations"] = annotations
layout["shapes"] = shapes
fig.update_layout(**layout)
fig.write_html("out.html")
